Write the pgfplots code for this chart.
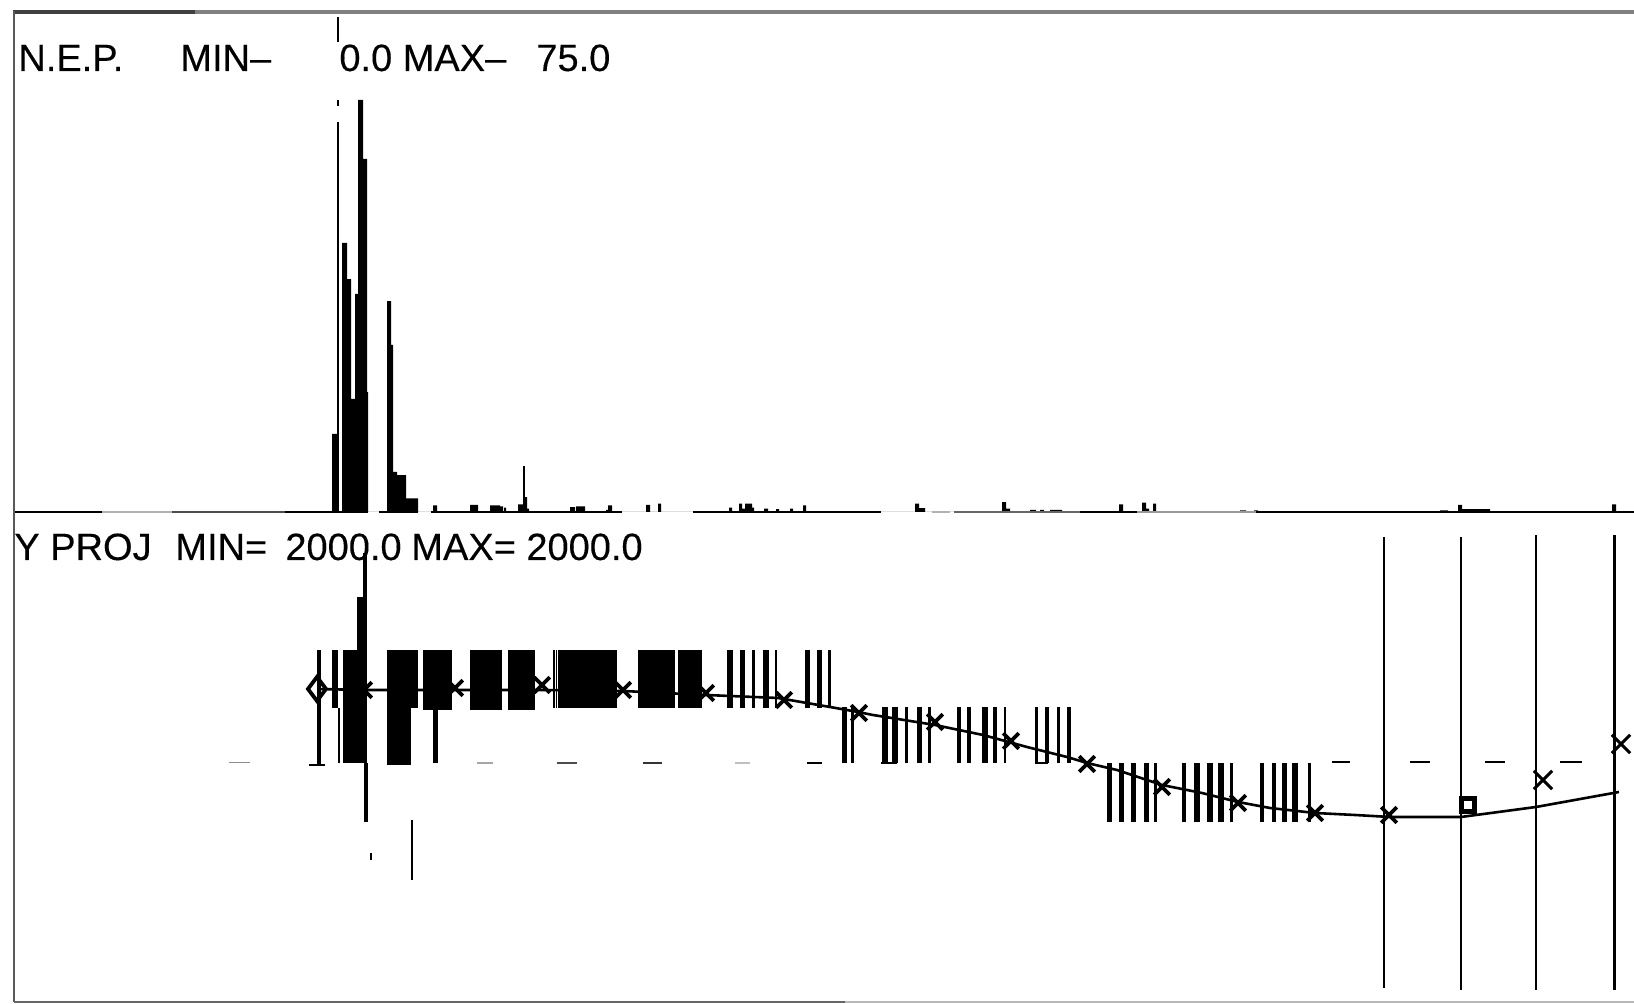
\documentclass[border=0pt]{standalone}
\usepackage{fontspec}
\setmainfont{Liberation Sans}[FakeBold=0.25]
\usepackage{pgfplots}
\pgfplotsset{compat=1.18}
% filled vertical bar: x1 x2 ytop ybottom
\newcommand\blk[4]{\addplot[fill=black,draw=none,forget plot] coordinates {(#1,#3)(#2,#3)(#2,#4)(#1,#4)} -- cycle;}
% line segment helper
\newcommand\seg[6][]{\addplot[forget plot,#2,line width=#3,#1] coordinates {(#4,#5)(#4,#6)};}
\newcommand\hseg[5]{\addplot[forget plot,#1,line width=#2] coordinates {(#4,#3)(#5,#3)};}
\begin{document}
\begin{tikzpicture}
\path[use as bounding box] (0,0) rectangle (817pt,502pt);
\pgfplotsset{every axis/.append style={
  scale only axis, axis lines=none, xmin=0, xmax=1634, width=817pt, clip=false,
  anchor=south west}}
%% ---------- upper panel: N.E.P., 0 to 75 ----------
\begin{axis}[at={(0pt,246pt)}, height=250pt, ymin=0, ymax=91.02]
\addplot[const plot, fill=black, draw=none, forget plot] coordinates {
(332,0)(332,14.2)(337,0)(342,49)(347,42.4)(351,20.6)(355,39.7)(358,75)(363,64.3)(367,21.8)(368,0)
(387,38.4)(391,30.4)(393,7.3)(397,6.7)(406,2.5)(418,0)
(433,1.2)(437,0)(470,1.3)(478,0)(490,1.2)(500,1)(503,0)(504,0.8)(506,0)
(518,1.4)(523,2.7)(527,0.6)(529,0)
(570,0.9)(575,0)(576,1)(585,0)(606,0.4)(608,1.2)(612,0)
(646,1.3)(650,0)(658,1.5)(661,0)
(729,0.8)(732,0)(739,1.5)(742,0.6)(745,1.5)(752,0.8)(754,0)(764,0.6)(768,0)(776,0.5)(779,0)(790,0.6)(793,0)(803,1.2)(806,0)
(915,1.5)(919,0.7)(925,0)(1002,1.8)(1006,0.6)(1010,0)(1030,0.4)(1036,0)(1040,0.4)(1044,0)
(1050,0.4)(1062,0)(1119,1.4)(1123,0)(1142,1.7)(1146,0.6)(1149,0)(1153,1.5)(1156,0)
(1240,0.3)(1246,0)(1254,0.3)(1258,0)
(1440,0.3)(1448,0)(1458,1.3)(1462,0.5)(1490,0)(1612,1.4)(1616,0)(1620,0)
} -- cycle;
% tall thin line at the left of the peak
\seg{black}{1pt}{337.5}{0}{71}
\seg{black}{1pt}{337.5}{73.9}{75}
\seg{black}{1pt}{337.5}{85.6}{90.1}
\seg{black}{1pt}{524}{0}{8.4}
% base line
\hseg{black}{1.1pt}{0}{14}{102}
\hseg{black!30}{0.8pt}{0}{102}{172}
\hseg{black!70}{1.1pt}{0}{172}{285}
\hseg{black}{1.1pt}{0}{285}{368}
\hseg{black}{1.1pt}{0}{379}{418}
\hseg{black}{1.1pt}{0}{431}{622}
\hseg{black}{1.1pt}{0}{693}{881}
\hseg{black!30}{0.8pt}{0}{932}{950}
\hseg{black!60}{1.1pt}{0}{954}{1080}
\hseg{black}{1.1pt}{0}{1080}{1137}
\hseg{black!40}{0.8pt}{0}{1137}{1256}
\hseg{black}{1.1pt}{0}{1256}{1634}
\end{axis}
%% ---------- lower panel: Y projection, plotted in picture rows ----------
\begin{axis}[at={(0pt,0pt)}, height=246pt, ymin=512, ymax=1004, y dir=reverse]
% first group of bars
\blk{317}{321}{650}{765}\blk{309}{325}{764}{766}
\blk{332}{338}{650}{708}\blk{337.5}{339.5}{708}{763}
\blk{343}{367}{650}{763}\blk{357}{363}{597}{650}\blk{363}{367}{553}{650}\blk{363.5}{368}{763}{822}
\blk{387}{411}{650}{765}\blk{411}{418}{650}{708}
\blk{423}{452}{650}{710}\blk{433}{438}{710}{763}
\blk{470}{502}{650}{710}\blk{508}{535}{650}{710}
\blk{553}{555}{650}{708}\blk{556}{557}{650}{708}\blk{558}{617}{650}{708}
\blk{638}{675}{650}{708}\blk{678}{702}{650}{708}
\blk{727}{733}{650}{708}\blk{739.5}{745}{650}{708}\blk{752}{755}{650}{708}
\blk{762.5}{768.5}{650}{708}\blk{775}{777}{650}{708}
\blk{804.5}{809.5}{650}{708}\blk{816.5}{821.5}{650}{708}\blk{828}{830.5}{650}{708}
% second group of bars
\blk{842}{846.5}{707}{763}\blk{851}{854}{707}{763}
\blk{881.5}{887.5}{707}{763}\blk{891.5}{897.5}{707}{763}\blk{881}{897}{762}{764}
\blk{905}{907.5}{707}{763}\blk{916.5}{921.5}{707}{763}\blk{927.5}{930.5}{707}{763}
\blk{956.5}{960.5}{707}{763}\blk{966.5}{971}{707}{763}\blk{981.5}{987.5}{707}{763}\blk{992.5}{996.5}{707}{763}\blk{1003.5}{1006}{707}{763}
\blk{1034.5}{1037.5}{707}{763}\blk{1044.5}{1049}{707}{763}\blk{1035}{1048}{762}{764}
\blk{1056.5}{1059.5}{707}{763}\blk{1066.5}{1070.5}{707}{763}
% third group of bars
\blk{1106.5}{1111.5}{763}{822}\blk{1118.5}{1123.5}{763}{822}\blk{1131}{1135.5}{763}{822}\blk{1143.5}{1148.5}{763}{822}\blk{1154}{1156.5}{763}{822}
\blk{1181.5}{1185.5}{763}{822}\blk{1193.5}{1199.5}{763}{822}\blk{1206.5}{1212.5}{763}{822}\blk{1217.5}{1223.5}{763}{822}\blk{1230}{1232.5}{763}{822}
\blk{1259.5}{1263.5}{763}{822}\blk{1271.5}{1275.5}{763}{822}\blk{1281.5}{1286.5}{763}{822}\blk{1291.5}{1297.5}{763}{822}\blk{1308}{1310.5}{763}{822}
% long lines at the right
\seg{black}{0.9pt}{1384}{537}{988}
\seg{black}{0.9pt}{1461}{537}{990}
\seg{black}{1.1pt}{1536}{535}{990}
\seg{black}{1.5pt}{1614}{535}{990}
% short lines under the peak
\seg{black}{0.9pt}{412}{820}{880}
\seg{black}{1.2pt}{371}{853}{860}
% dashes
\hseg{black!45}{0.8pt}{762.5}{229}{250}
\hseg{black!35}{0.8pt}{763}{477}{493}
\hseg{black!70}{1.2pt}{763}{557}{577}
\hseg{black!80}{1.2pt}{763}{643}{662}
\hseg{black!25}{0.8pt}{763}{735}{750}
\hseg{black}{1.4pt}{763}{807}{822}
\hseg{black}{0.8pt}{762}{1332}{1350}
\hseg{black}{0.8pt}{762}{1410}{1430}
\hseg{black}{0.8pt}{762}{1485}{1505}
\hseg{black}{0.8pt}{762}{1560}{1582}
% fitted curve
\addplot[black, line width=1.3pt, forget plot] coordinates {
(318,689)(364,690)(455,690)(542,690)(623,691)(706,695)(778,698)(830,707)(858,712)(873,715)(935,725)(983,735)(1027,747)(1067,757)(1087,763)(1117,770)(1162,785)(1202,793)(1238,802)(1270,808)(1315,813)(1355,815)(1390,817)(1461,817)(1536,807)(1619,792)};
% measured points
\addplot[black, line width=1.9pt, only marks, mark=x, mark size=5.5pt, forget plot] coordinates {
(364,690)(455,688)(542,685)(623,690)(706,693)(784,700)(859,713)(935,722)(1011,741)(1087,764)(1162,787)(1238,803)(1315,813)(1389,815)};
\addplot[black, line width=1.5pt, only marks, mark=x, mark size=6.5pt, forget plot] coordinates {(1543,780)(1621,744)};
\addplot[black, line width=1.9pt, only marks, mark=diamond, mark size=6pt, forget plot] coordinates {(317,689)};
\addplot[black, line width=2.2pt, only marks, mark=square, mark size=3.2pt, forget plot] coordinates {(1468,805)};
\end{axis}
%% ---------- frame and labels ----------
\begin{axis}[at={(0pt,0pt)}, height=502pt, ymin=0, ymax=1004, y dir=reverse]
\addplot[black!75, line width=1.6pt, forget plot] coordinates {(13,12)(195,12)};
\addplot[black!50, line width=1.8pt, forget plot] coordinates {(195,12)(1634,12)};
\addplot[black!65, line width=1.1pt, forget plot] coordinates {(14,11)(14,1002)};
\addplot[black!60, line width=1.4pt, forget plot] coordinates {(14,1002)(845,1002)};
\addplot[black!28, line width=1.4pt, forget plot] coordinates {(845,1002)(1634,1002)};
\fontsize{19}{22}\selectfont
\node[anchor=base west,inner sep=0pt] at (axis cs:18,71) {N.E.P.};
\node[anchor=base west,inner sep=0pt] at (axis cs:180,71) {MIN–};
\node[anchor=base west,inner sep=0pt] at (axis cs:339,71) {0.0 MAX–};
\node[anchor=base west,inner sep=0pt] at (axis cs:536,71) {75.0};
\node[anchor=base west,inner sep=0pt] at (axis cs:14,560) {Y PROJ};
\node[anchor=base west,inner sep=0pt] at (axis cs:175,560) {MIN=};
\node[anchor=base west,inner sep=0pt] at (axis cs:285,560) {2000.0};
\node[anchor=base west,inner sep=0pt] at (axis cs:411,560) {MAX=};
\node[anchor=base west,inner sep=0pt] at (axis cs:526,560) {2000.0};
\end{axis}
\end{tikzpicture}
\end{document}
